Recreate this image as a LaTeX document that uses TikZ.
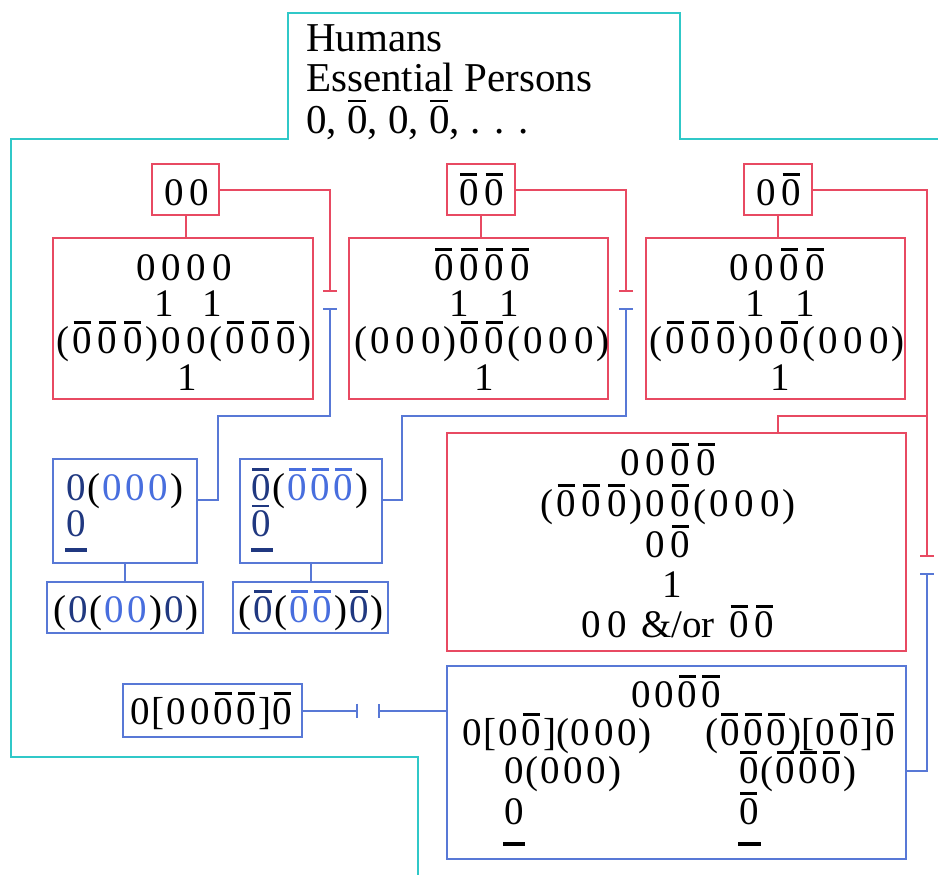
\documentclass[tikz,border=0pt]{standalone}
\usepackage{fontspec}
\setmainfont{Liberation Serif}
\usetikzlibrary{arrows.meta}

\definecolor{rd}{RGB}{232,74,98}
\definecolor{bl}{RGB}{88,120,214}
\definecolor{cy}{RGB}{48,200,200}
\definecolor{dkb}{RGB}{32,56,128}
\definecolor{mdb}{RGB}{72,110,222}

% digit cell width (set per style)
\newlength\dw
\setlength\dw{25pt}
% zero with an overbar
\newcommand\barzero{\ooalign{0\cr\hidewidth\rule[0.75em]{0.44em}{0.06em}\hidewidth\cr}}
\newcommand\dz{\makebox[\dw]{0}}
\newcommand\db{\makebox[\dw]{\barzero}}
\newcommand\dn{\makebox[\dw]{1}}
\newcommand\dzc[1]{\textcolor{#1}{\dz}}
\newcommand\dbc[1]{\textcolor{#1}{\db}}

\tikzset{
  rbox/.style={draw=rd, line width=2pt, inner sep=0pt, outer sep=0pt},
  bbox/.style={draw=bl, line width=2pt, inner sep=0pt, outer sep=0pt},
  rline/.style={draw=rd, line width=2pt},
  bline/.style={draw=bl, line width=2pt},
  rt/.style={anchor=base, inner sep=0pt, font=\fontsize{39}{39}\selectfont\setlength{\dw}{25.4pt}},
  bt/.style={anchor=base, inner sep=0pt, font=\fontsize{39}{39}\selectfont\setlength{\dw}{23.3pt}},
  btw/.style={bt, anchor=base west},
  tt/.style={anchor=base west, inner sep=0pt, font=\fontsize{41}{41}\selectfont},
  ubar/.style={anchor=north west, inner sep=0pt, minimum width=22pt, minimum height=4pt},
  >={Bar[width=14pt]}
}

\begin{document}
\begin{tikzpicture}[x=1pt, y=-1pt]
\useasboundingbox (0,0) rectangle (938,875);

% outline of the humans region
\draw[cy, line width=2pt] (938,139) -- (680,139) -- (680,13) -- (288,13) -- (288,139)
  -- (11,139) -- (11,757) -- (418,757) -- (418,876);

\node[tt] (t1) at (306,52) {Humans};
\node[tt] (t2) at (306,92) {Essential Persons};
\node[tt] (t3) at (306,133) {0, \barzero, 0, \barzero, . . .};

% red boxes
\node[rbox, minimum width=67, minimum height=51] (S1) at (185.5,189.5) {};
\node[rbox, minimum width=68, minimum height=51] (S2) at (481,189.5) {};
\node[rbox, minimum width=68, minimum height=51] (S3) at (778,189.5) {};
\node[rbox, minimum width=260, minimum height=161] (R1) at (183,318.5) {};
\node[rbox, minimum width=259, minimum height=161] (R2) at (478.5,318.5) {};
\node[rbox, minimum width=259, minimum height=161] (R3) at (775.5,318.5) {};
\node[rbox, minimum width=459, minimum height=218] (R4) at (676.5,542) {};

% blue boxes
\node[bbox, minimum width=144, minimum height=104] (B1) at (125,511) {};
\node[bbox, minimum width=142, minimum height=104] (B2) at (311,511) {};
\node[bbox, minimum width=156, minimum height=51] (C1) at (125,607.5) {};
\node[bbox, minimum width=155, minimum height=51] (C2) at (310.5,607.5) {};
\node[bbox, minimum width=459, minimum height=193] (B5) at (676.5,762.5) {};
\node[bbox, minimum width=179, minimum height=53] (B6) at (212.5,710.5) {};

% small box labels
\node[rt] (s1t) at (187,205) {\dz\dz};
\node[rt] (s2t) at (481.5,205) {\db\db};
\node[rt] (s3t) at (778.5,205) {\dz\db};

% red box 1
\node[rt] (r1a) at (184,280) {\dz\dz\dz\dz};
\node[rt] (r1b) at (188.5,316) {\dn\hspace{22.6pt}\dn};
\node[rt] (r1c) at (184,353) {(\db\db\db)\dz\dz(\db\db\db)};
\node[rt] (r1d) at (187.5,390) {\dn};
% red box 2
\node[rt] (r2a) at (482,280) {\db\db\db\db};
\node[rt] (r2b) at (484.5,316) {\dn\hspace{24.6pt}\dn};
\node[rt] (r2c) at (482,353) {(\dz\dz\dz)\db\db(\dz\dz\dz)};
\node[rt] (r2d) at (484.5,390) {\dn};
% red box 3
\node[rt] (r3a) at (777,280) {\dz\dz\db\db};
\node[rt] (r3b) at (780.5,316) {\dn\hspace{24.6pt}\dn};
\node[rt] (r3c) at (777,353) {(\db\db\db)\dz\db(\dz\dz\dz)};
\node[rt] (r3d) at (780.5,390) {\dn};
% red box 4
\node[rt] (r4a) at (668,475) {\dz\dz\db\db};
\node[rt] (r4b) at (668,516) {(\db\db\db)\dz\db(\dz\dz\dz)};
\node[rt] (r4c) at (668,557) {\dz\db};
\node[rt] (r4d) at (672,597) {\dn};
\node[rt] (r4e) at (678,637) {\dz\dz\hspace{0.3em}\&/or\hspace{0.3em}\db\db};

% blue box 1 and its child
\node[btw] (b1a) at (64,500) {\dzc{dkb}(\textcolor{mdb}{\dz\dz\dz})};
\node[btw] (b1b) at (64,536.5) {\dzc{dkb}};
\node[ubar, fill=dkb] (b1c) at (65,548) {};
\node[bt] (c1t) at (126,622) {(\dzc{dkb}(\textcolor{mdb}{\dz\dz})\dzc{dkb})};
% blue box 2 and its child
\node[btw] (b2a) at (249,500) {\dbc{dkb}(\textcolor{mdb}{\db\db\db})};
\node[btw] (b2b) at (249,536.5) {\dbc{dkb}};
\node[ubar, fill=dkb] (b2c) at (251,548) {};
\node[bt] (c2t) at (311,622) {(\dbc{dkb}(\textcolor{mdb}{\db\db})\dbc{dkb})};

% lone blue box
\node[bt] (b6t) at (211.5,724) {\dz[\dz\dz\db\db]\db};

% blue box 5
\node[bt] (b5a) at (676,707) {\dz\dz\db\db};
\node[btw] (b5b) at (460,745) {\dz[\dz\db](\dz\dz\dz)};
\node[btw] (b5c) at (705,745) {(\db\db\db)[\dz\db]\db};
\node[btw] (b5d) at (502,783) {\dz(\dz\dz\dz)};
\node[btw] (b5e) at (737,783) {\db(\db\db\db)};
\node[btw] (b5f) at (502,824) {\dz};
\node[btw] (b5g) at (737,824) {\db};
\node[ubar, fill=black] (b5h) at (503,842) {};
\node[ubar, fill=black, minimum width=23pt] (b5i) at (738,842) {};

% connector end points
\coordinate (k1) at (330,292);
\coordinate (k1b) at (330,308);
\coordinate (k2) at (626,292);
\coordinate (k2b) at (626,308);
\coordinate (k3) at (927,557);
\coordinate (k3b) at (927,573);
\coordinate (j3) at (927,416);
\coordinate (k4) at (358,710.5);
\coordinate (k4b) at (378,710.5);

% red connectors
\draw[rline] (S1.south) -- (S1.south |- R1.north);
\draw[rline] (S2.south) -- (S2.south |- R2.north);
\draw[rline] (S3.south) -- (S3.south |- R3.north);
\draw[rline, ->] (S1.east) -| (k1);
\draw[rline, ->] (S2.east) -| (k2);
\draw[rline, ->] (S3.east) -| (k3);
\draw[rline] (j3) -| (S3.south |- R4.north);

% blue connectors
\draw[bline, <-] (k1b) -- ++(0,108) -| ([xshift=21pt,yshift=11pt]B1.east) -- ([yshift=11pt]B1.east);
\draw[bline, <-] (k2b) -- ++(0,108) -| ([xshift=20pt,yshift=11pt]B2.east) -- ([yshift=11pt]B2.east);
\draw[bline, <-] (k3b) -- ++(0,198) -- ([yshift=-8.5pt]B5.east);
\draw[bline] (B1.south) -- (C1.north);
\draw[bline] (B2.south) -- (B2.south |- C2.north);
\draw[bline, ->] (B6.east) -- (k4);
\draw[bline, <-] (k4b) -- (k4b -| B5.west);
\end{tikzpicture}
\end{document}
